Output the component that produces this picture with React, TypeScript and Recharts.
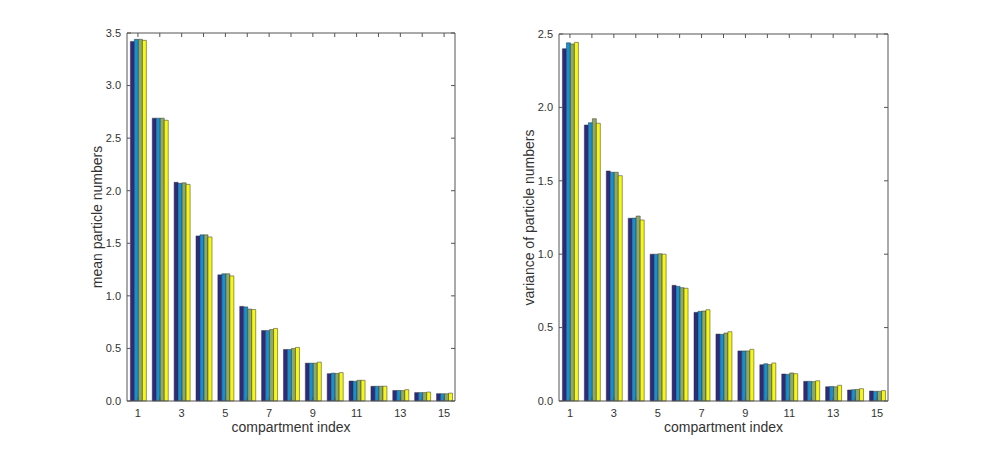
import React from 'react';
import { BarChart, Bar, XAxis, YAxis } from 'recharts';

const compartments = [1, 2, 3, 4, 5, 6, 7, 8, 9, 10, 11, 12, 13, 14, 15];

const meanRun1 = [3.42, 2.69, 2.08, 1.57, 1.2, 0.9, 0.67, 0.49, 0.36, 0.26, 0.19, 0.14, 0.1, 0.08, 0.07];
const meanRun2 = [3.44, 2.69, 2.07, 1.58, 1.21, 0.895, 0.67, 0.49, 0.36, 0.265, 0.188, 0.14, 0.1, 0.08, 0.069];
const meanRun3 = [3.44, 2.69, 2.075, 1.58, 1.21, 0.874, 0.68, 0.5, 0.36, 0.262, 0.197, 0.14, 0.099, 0.08, 0.069];
const meanRun4 = [3.43, 2.67, 2.06, 1.56, 1.19, 0.87, 0.69, 0.51, 0.37, 0.27, 0.197, 0.141, 0.108, 0.085, 0.075];

const varRun1 = [2.4, 1.88, 1.567, 1.245, 1.0, 0.788, 0.604, 0.456, 0.341, 0.247, 0.184, 0.134, 0.097, 0.075, 0.068];
const varRun2 = [2.44, 1.896, 1.558, 1.246, 1.0, 0.781, 0.611, 0.454, 0.341, 0.254, 0.182, 0.134, 0.099, 0.077, 0.066];
const varRun3 = [2.432, 1.923, 1.558, 1.26, 1.003, 0.772, 0.613, 0.463, 0.341, 0.248, 0.191, 0.132, 0.097, 0.079, 0.066];
const varRun4 = [2.443, 1.892, 1.535, 1.233, 1.0, 0.768, 0.622, 0.472, 0.352, 0.259, 0.186, 0.138, 0.107, 0.084, 0.071];

const meanTicks = [0, 0.5, 1, 1.5, 2, 2.5, 3, 3.5];
const varTicks = [0, 0.5, 1, 1.5, 2, 2.5];

const colors = ['#2d2a7f', '#1391d1', '#8dab63', '#f6f712'];
const FONT = '"Liberation Sans", Arial, Helvetica, sans-serif';
const AXIS = '#555';
const TEXT = '#333';

const buildRows = (series: number[][]) =>
  compartments.map((c, i) => ({
    idx: c,
    r1: series[0][i],
    r2: series[1][i],
    r3: series[2][i],
    r4: series[3][i],
  }));

const meanRows = buildRows([meanRun1, meanRun2, meanRun3, meanRun4]);
const varRows = buildRows([varRun1, varRun2, varRun3, varRun4]);

interface PanelProps {
  rows: Record<string, number>[];
  ticks: number[];
  yLabel: string;
  left: number;
  margin: { top: number; right: number; bottom: number; left: number };
}

const W = 490;
const H = 451;
const Y_W = 60;
const X_H = 31;

function Panel({ rows, ticks, yLabel, left, margin }: PanelProps) {
  const plotLeft = margin.left + Y_W;
  const plotRight = W - margin.right;
  const plotTop = margin.top;
  const plotBottom = H - margin.bottom - X_H;
  const max = ticks[ticks.length - 1];

  // y ticks: label + inward marks on both sides; the top tick also closes the box
  const yTick = (p: any) => (
    <g>
      <text x={p.x} y={p.y} dy="0.35em" textAnchor="end" fontSize={11} fill={TEXT} fontFamily={FONT}>
        {Number(p.payload.value).toFixed(1)}
      </text>
      <line x1={plotLeft} x2={plotLeft + 4} y1={p.y} y2={p.y} stroke={AXIS} />
      <line x1={plotRight - 4} x2={plotRight} y1={p.y} y2={p.y} stroke={AXIS} />
      {p.payload.value === max && (
        <>
          <line x1={plotLeft} x2={plotRight} y1={plotTop} y2={plotTop} stroke={AXIS} />
          <line x1={plotRight} x2={plotRight} y1={plotTop} y2={plotBottom} stroke={AXIS} />
        </>
      )}
    </g>
  );

  const xTick = (p: any) => (
    <g>
      {Number(p.payload.value) % 2 === 1 && (
        <text x={p.x} y={p.y} dy="0.71em" textAnchor="middle" fontSize={11} fill={TEXT} fontFamily={FONT}>
          {p.payload.value}
        </text>
      )}
      <line x1={p.x} x2={p.x} y1={plotBottom} y2={plotBottom - 4} stroke={AXIS} />
      <line x1={p.x} x2={p.x} y1={plotTop} y2={plotTop + 4} stroke={AXIS} />
    </g>
  );

  return (
    <div style={{ position: 'absolute', left, top: 0 }}>
      <BarChart
        width={W}
        height={H}
        data={rows}
        margin={margin}
        barCategoryGap="15.5%"
        barGap={0}
      >
        <XAxis
          dataKey="idx"
          height={X_H}
          interval={0}
          tickLine={false}
          tickSize={6}
          tickMargin={2}
          axisLine={{ stroke: AXIS }}
          tick={xTick}
          label={{
            value: 'compartment index',
            position: 'insideBottom',
            offset: 0,
            style: { fontSize: 14, fill: TEXT, fontFamily: FONT },
          }}
        />
        <YAxis
          type="number"
          domain={[0, max]}
          ticks={ticks}
          width={Y_W}
          tickLine={false}
          tickSize={4}
          tickMargin={2}
          axisLine={{ stroke: AXIS }}
          tick={yTick}
          label={{
            value: yLabel,
            angle: -90,
            position: 'insideLeft',
            offset: 30,
            style: { fontSize: 14, fill: TEXT, fontFamily: FONT, textAnchor: 'middle' },
          }}
        />
        {['r1', 'r2', 'r3', 'r4'].map((k, i) => (
          <Bar
            key={k}
            dataKey={k}
            fill={colors[i]}
            stroke="#333"
            strokeWidth={0.5}
            isAnimationActive={false}
          />
        ))}
      </BarChart>
    </div>
  );
}

export default function App() {
  return (
    <div style={{ position: 'absolute', left: 0, top: 0, width: 981, height: 451, background: '#fff' }}>
      <Panel
        rows={meanRows}
        ticks={meanTicks}
        yLabel="mean particle numbers"
        left={0}
        margin={{ top: 33, right: 35, bottom: 19, left: 67 }}
      />
      <Panel
        rows={varRows}
        ticks={varTicks}
        yLabel="variance of particle numbers"
        left={440}
        margin={{ top: 34, right: 42, bottom: 19, left: 59 }}
      />
    </div>
  );
}
